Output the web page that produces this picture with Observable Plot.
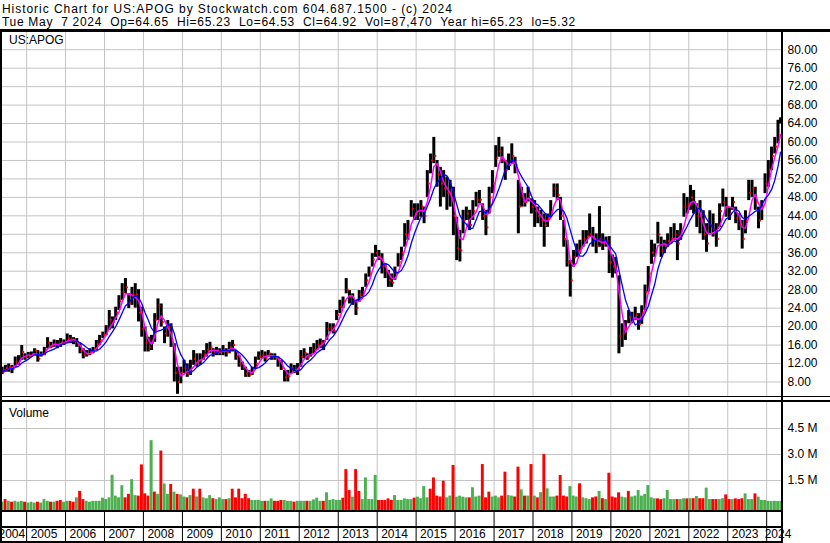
<!DOCTYPE html>
<html>
<head>
<meta charset="utf-8">
<script src="https://cdn.jsdelivr.net/npm/d3@7"></script>
<script src="https://cdn.jsdelivr.net/npm/@observablehq/plot@0.6"></script>
<style>
html,body{margin:0;padding:0;background:#fff;}
#chart{position:relative;width:830px;height:543px;overflow:hidden;background:#fff;font-family:"Liberation Sans",Arial,sans-serif;font-size:12px;color:#000;}
.txt{position:absolute;white-space:pre;line-height:13px;}
.hdr{left:2px;}
.bar{position:absolute;background:#000;}
#chart svg{position:absolute;left:0;}
</style>
</head>
<body>
<div id="chart">
  <div class="txt hdr" style="top:3px;letter-spacing:0.95px">Historic Chart for US:APOG by Stockwatch.com 604.687.1500 - (c) 2024</div>
  <div class="txt hdr" style="top:16px;letter-spacing:0.7px">Tue May  7 2024  Op=64.65  Hi=65.23  Lo=64.53  Cl=64.92  Vol=87,470  Year hi=65.23  lo=5.32</div>
</div>
<script>
// Monthly bars, May 2004 .. May 2024 (one value per month)
const lows = [
  9.6, 10.1, 10.1, 9.8, 11.2, 11.6, 12.7, 12.7,                               // 2004 May-Dec
  13.0, 13.4, 13.7, 12.3, 13.4, 13.7, 15.2, 15.2, 15.5, 15.2, 15.5, 15.9,     // 2005
  16.3, 16.3, 16.1, 15.5, 14.1, 13.0, 13.4, 13.7, 14.1, 14.8, 15.9, 17.4,     // 2006
  18.1, 19.2, 19.5, 21.3, 23.5, 25.7, 27.1, 23.9, 24.6, 24.0, 21.0, 17.7,     // 2007
  14.5, 14.5, 14.8, 16.6, 21.3, 19.9, 16.3, 17.7, 15.5, 8.0, 5.32, 7.6,       // 2008
  9.8, 9.0, 9.4, 11.6, 11.2, 11.6, 12.7, 13.4, 14.1, 13.4, 13.7, 13.7,        // 2009
  13.7, 13.4, 14.1, 14.5, 12.7, 11.2, 10.5, 9.0, 9.0, 9.4, 10.9, 12.7,        // 2010
  13.0, 12.3, 13.4, 12.7, 12.7, 11.2, 10.5, 8.0, 8.0, 9.8, 9.8, 9.4,          // 2011
  11.2, 13.0, 12.7, 13.4, 14.1, 14.8, 15.2, 14.8, 17.0, 18.8, 18.4, 21.3,     // 2012
  22.8, 23.9, 27.1, 24.9, 24.6, 22.4, 25.3, 26.4, 28.5, 30.7, 32.9, 35.0,     // 2013
  34.3, 31.4, 30.4, 28.5, 28.5, 30.0, 32.9, 34.3, 37.2, 38.7, 43.7, 43.0,     // 2014
  43.0, 43.7, 42.3, 48.0, 53.1, 55.3, 50.2, 45.9, 48.0, 45.2, 45.9, 39.7,     // 2015
  34.3, 34.0, 40.1, 43.0, 40.8, 43.0, 45.9, 46.6, 43.0, 39.7, 44.4, 48.8,     // 2016
  54.5, 56.7, 55.3, 51.7, 53.8, 55.3, 53.1, 40.1, 45.9, 45.9, 47.0, 44.4,     // 2017
  41.5, 42.3, 41.5, 37.2, 41.5, 43.7, 48.0, 47.3, 43.0, 37.2, 32.9, 26.4,     // 2018
  32.9, 35.0, 35.7, 37.2, 37.9, 39.4, 37.2, 35.8, 37.2, 36.5, 37.2, 31.5,     // 2019
  30.5, 31.4, 14.1, 15.5, 17.0, 20.6, 20.6, 21.3, 19.2, 20.5, 23.5, 27.5,     // 2020
  33.5, 35.0, 37.9, 35.0, 35.8, 37.2, 37.9, 38.7, 34.3, 38.7, 43.7, 44.4,     // 2021
  45.2, 44.4, 41.5, 40.1, 38.7, 36.1, 40.1, 39.4, 37.2, 41.5, 45.9, 43.7,     // 2022
  43.0, 45.2, 42.3, 40.8, 36.8, 40.1, 47.3, 48.0, 45.2, 41.2, 43.0, 48.8,     // 2023
  50.2, 53.8, 57.4, 59.6, 63.9                                                // 2024 Jan-May
];
const highs = [
  11.2, 11.6, 11.9, 11.6, 13.4, 13.7, 15.9, 14.1,
  14.4, 14.5, 15.2, 14.8, 14.5, 15.5, 17.6, 16.6, 17.1, 17.0, 17.4, 17.1,
  18.4, 18.1, 17.6, 17.4, 16.3, 15.2, 14.8, 15.2, 15.5, 17.0, 18.1, 18.8,
  20.2, 23.5, 22.1, 24.2, 26.7, 29.3, 30.4, 27.1, 28.5, 29.3, 28.0, 24.2,
  19.9, 17.7, 18.1, 22.8, 26.0, 24.9, 19.9, 21.3, 20.6, 16.3, 11.2, 11.2,
  12.7, 11.9, 12.7, 14.8, 14.1, 14.1, 14.8, 16.3, 16.6, 15.2, 15.5, 15.2,
  15.9, 15.2, 16.6, 17.0, 14.8, 13.7, 12.3, 11.2, 10.5, 11.2, 13.4, 14.5,
  14.8, 14.5, 14.8, 14.1, 14.1, 13.4, 12.7, 10.5, 10.5, 11.9, 11.6, 12.0,
  14.8, 15.2, 14.1, 15.5, 16.3, 17.0, 17.3, 17.0, 20.9, 20.6, 20.6, 23.5,
  25.7, 26.4, 30.4, 27.8, 27.1, 25.7, 27.8, 28.5, 31.4, 32.9, 35.8, 37.6,
  36.5, 35.8, 33.6, 32.2, 31.4, 32.9, 35.8, 37.2, 42.3, 43.0, 47.3, 46.6,
  46.6, 47.3, 45.9, 53.8, 57.4, 61.0, 56.0, 54.5, 53.8, 52.4, 51.7, 50.2,
  43.7, 40.8, 45.2, 45.9, 45.2, 47.3, 49.1, 49.5, 46.6, 45.2, 50.2, 53.8,
  59.2, 61.0, 58.9, 56.0, 57.4, 59.6, 56.7, 51.7, 50.2, 48.8, 50.2, 47.7,
  47.3, 45.9, 45.2, 44.4, 44.4, 47.3, 50.9, 50.9, 48.0, 43.0, 38.7, 34.3,
  36.5, 37.9, 38.7, 40.8, 40.8, 44.4, 41.5, 40.1, 46.0, 40.1, 39.4, 39.5,
  35.5, 35.0, 31.0, 20.6, 21.3, 23.5, 23.1, 24.2, 22.8, 24.5, 29.0, 33.0,
  38.7, 37.9, 42.6, 39.4, 38.7, 40.1, 41.5, 42.3, 40.8, 42.3, 48.8, 48.0,
  50.6, 49.5, 46.6, 47.3, 45.1, 42.3, 45.1, 44.4, 42.3, 46.6, 49.8, 48.0,
  45.9, 48.0, 45.9, 44.4, 43.0, 45.1, 51.7, 51.7, 50.2, 45.9, 47.3, 53.1,
  56.0, 58.9, 61.0, 64.7, 65.23
];
const closes = [
  10.2, 11.0, 11.3, 10.8, 12.4, 12.6, 14.5, 13.5,
  13.6, 14.0, 14.8, 13.0, 14.0, 15.0, 16.5, 15.8, 16.3, 16.0, 16.6, 16.5,
  17.5, 17.2, 16.9, 16.3, 14.7, 13.8, 14.0, 14.5, 15.0, 16.2, 17.0, 18.2,
  19.2, 21.5, 21.0, 23.0, 25.5, 27.5, 28.5, 25.0, 27.0, 27.0, 23.0, 19.5,
  16.5, 15.5, 16.5, 21.5, 24.5, 21.0, 18.5, 20.0, 17.0, 10.0, 8.0, 10.0,
  11.0, 9.8, 11.0, 13.0, 12.5, 12.8, 13.8, 15.0, 15.5, 14.2, 14.8, 14.5,
  15.0, 14.5, 15.5, 16.0, 13.5, 12.0, 11.3, 9.8, 9.6, 10.5, 12.0, 13.5,
  13.8, 13.2, 14.2, 13.6, 13.3, 12.5, 11.0, 9.0, 9.2, 11.0, 10.6, 10.8,
  13.5, 14.3, 13.3, 14.0, 15.0, 16.0, 16.5, 16.8, 19.5, 19.8, 19.0, 22.5,
  24.3, 25.5, 28.0, 26.5, 25.5, 24.0, 27.0, 27.5, 30.0, 31.5, 34.5, 36.0,
  35.0, 33.0, 32.0, 30.0, 29.5, 31.5, 34.0, 36.0, 40.0, 41.0, 45.5, 44.5,
  45.0, 46.0, 44.0, 51.0, 56.0, 57.0, 53.0, 51.0, 50.0, 49.0, 48.0, 44.0,
  37.0, 36.5, 43.0, 44.5, 42.0, 45.0, 47.5, 47.5, 44.0, 41.5, 48.0, 51.0,
  56.5, 58.0, 56.0, 54.0, 55.0, 57.0, 55.0, 46.0, 48.0, 47.0, 48.5, 46.0,
  45.0, 44.0, 43.0, 42.0, 43.5, 45.0, 50.0, 48.5, 44.0, 39.0, 34.0, 30.0,
  35.0, 36.5, 37.0, 39.0, 39.5, 40.0, 39.0, 37.5, 39.0, 38.0, 38.5, 34.0,
  33.0, 32.0, 18.0, 18.5, 19.5, 22.0, 21.5, 22.5, 20.5, 23.0, 27.5, 31.5,
  36.0, 36.5, 40.0, 36.5, 37.5, 38.5, 39.0, 40.0, 38.0, 41.0, 46.0, 46.5,
  48.0, 47.0, 44.0, 43.0, 40.0, 38.0, 42.0, 41.0, 39.0, 45.0, 47.0, 46.0,
  44.5, 47.0, 43.5, 42.0, 39.0, 43.0, 49.0, 50.0, 47.0, 43.0, 46.0, 51.0,
  54.0, 57.0, 59.0, 61.0, 64.92
];
// Volume, millions of shares (peak weekly volume in each month)
const volumes = [
  0.25, 0.4, 0.3, 0.25, 0.3, 0.25, 0.3, 0.25,
  0.2, 0.25, 0.2, 0.25, 0.2, 0.4, 0.3, 0.25, 0.25, 0.3, 0.35, 0.25,
  0.3, 0.3, 0.25, 0.5, 0.87, 0.4, 0.3, 0.25, 0.3, 0.3, 0.3, 0.48,
  0.4, 0.5, 1.8, 0.6, 0.5, 1.2, 0.5, 0.7, 1.55, 0.63, 0.6, 2.4,
  0.73, 0.6, 3.8, 0.83, 0.7, 3.2, 1.3, 0.7, 1.27, 0.83, 0.7, 0.67,
  0.55, 0.5, 0.63, 1.0, 0.55, 1.0, 0.5, 0.45, 0.63, 0.45, 0.4, 0.5,
  0.4, 0.4, 0.45, 1.0, 0.5, 1.0, 0.45, 0.7, 0.45, 0.35, 0.35, 0.35,
  0.3, 0.3, 0.3, 0.44, 0.3, 0.3, 0.35, 0.35, 0.3, 0.3, 0.25, 0.3,
  0.3, 0.3, 0.3, 0.3, 0.38, 0.48, 0.3, 0.3, 0.79, 0.35, 0.4, 0.35,
  0.35, 0.48, 2.13, 0.92, 0.54, 2.13, 0.87, 0.4, 1.65, 0.4, 0.4, 1.79,
  0.35, 0.35, 0.35, 0.44, 0.35, 0.63, 0.35, 0.35, 0.44, 0.4, 0.4, 0.48,
  0.54, 0.45, 1.15, 0.5, 1.0, 1.65, 0.6, 0.55, 1.46, 0.5, 0.6, 2.37,
  0.54, 0.6, 0.54, 0.5, 0.5, 1.08, 0.55, 0.6, 2.42, 0.5, 0.83, 0.55,
  0.6, 0.5, 0.6, 1.98, 0.63, 0.6, 0.55, 2.27, 0.96, 0.6, 0.6, 2.42,
  0.6, 0.5, 0.8, 3.0, 1.02, 0.55, 0.55, 0.6, 1.79, 0.6, 0.55, 1.15,
  0.6, 0.55, 1.31, 0.5, 0.45, 0.4, 0.5, 0.55, 0.87, 0.45, 0.4, 1.92,
  0.55, 0.5, 0.79, 0.54, 0.5, 0.87, 0.55, 0.6, 0.92, 0.6, 0.7, 1.21,
  0.5, 0.45, 0.44, 0.4, 0.45, 0.92, 0.4, 0.4, 0.4, 0.4, 0.45, 0.44,
  0.45, 0.45, 0.58, 0.45, 0.45, 1.06, 0.4, 0.4, 0.4, 0.4, 0.45, 0.67,
  0.4, 0.4, 0.44, 0.4, 0.45, 0.73, 0.4, 0.4, 0.73, 0.54, 0.35, 0.35,
  0.3, 0.29, 0.3, 0.29, 0.3
];
// 1 = up period (green volume), 0 = down period (red volume)
const volUp = [
  1,0,1,0,1,1,1,0,
  1,1,1,0,1,1,1,0,1,0,0,1,
  1,0,0,1,0,0,1,1,1,1,1,1,
  1,1,1,1,1,1,0,0,1,1,0,0,
  0,0,1,0,1,0,1,1,0,1,0,1,
  1,0,1,0,1,0,1,1,1,0,1,1,
  1,0,1,0,0,0,0,0,0,1,1,1,
  1,0,1,1,0,0,0,1,1,1,0,1,
  1,1,0,1,1,1,1,0,1,1,1,1,
  1,0,0,0,1,0,0,1,1,1,1,1,
  0,0,0,0,0,1,1,1,1,1,1,0,
  1,1,1,1,0,0,0,0,0,1,1,0,
  1,1,1,1,0,1,1,1,0,0,0,1,
  1,1,0,0,1,1,0,0,1,0,1,0,
  1,0,1,0,1,1,1,0,0,0,0,1,
  1,1,0,1,1,1,0,0,1,0,1,0,
  0,0,0,1,1,0,1,1,1,1,1,1,
  1,1,0,0,1,1,1,1,0,1,1,0,
  1,0,1,0,0,1,1,0,0,1,1,0,
  0,1,0,0,0,1,1,1,0,1,1,1,
  1,1,1,1,1
];
const priceTicks = [8, 12, 16, 20, 24, 28, 32, 36, 40, 44, 48, 52, 56, 60, 64, 68, 72, 76, 80];
const volumeTicks = [1.5, 3.0, 4.5];
const yearLabels = d3.range(2004, 2025);

const FONT = '"Liberation Sans", Arial, sans-serif';
const xDomain = [new Date(Date.UTC(2004, 4, 1)), new Date(Date.UTC(2024, 4, 19))];
const data = lows.map((lo, i) => {
  const start = new Date(Date.UTC(2004, 4 + i, 1));
  let end = new Date(Date.UTC(2004, 5 + i, 1));
  if (end > xDomain[1]) end = xDomain[1];
  return {
    start, end, mid: new Date((+start + +end) / 2),
    low: lo, high: highs[i], close: closes[i],
    vol: volumes[i], color: volUp[i] ? "#4cb050" : "#ff0000"
  };
});
const yearDates = yearLabels.slice(1).map(y => new Date(Date.UTC(y, 0, 1)));
const style = {background: "transparent", fontFamily: FONT, fontSize: "12px", color: "#000", overflow: "visible"};
const GRID = "#c4c4c4";

const price = Plot.plot({
  width: 830, height: 364,
  marginTop: 0, marginBottom: 0, marginLeft: 0, marginRight: 49,
  style,
  x: {type: "utc", domain: xDomain, axis: null},
  y: {domain: [4.85, 83.73], axis: "right", ticks: priceTicks, tickFormat: d => d.toFixed(2), tickSize: 0, tickPadding: 6, label: null},
  marks: [
    Plot.ruleY(priceTicks, {stroke: GRID, strokeWidth: 1}),
    Plot.ruleX(yearDates, {stroke: GRID, strokeWidth: 1}),
    Plot.ruleX(data, {x: "mid", y1: "low", y2: "high", stroke: "#000", strokeWidth: 3}),
    Plot.dot(data, {x: "mid", y: "close", r: 1.1, symbol: "square", fill: "#ff0000", stroke: null, dx: 1.5}),
    Plot.lineY(data, Plot.windowY({k: 3, anchor: "end"}, {x: "mid", y: "close", stroke: "#ff00ff", strokeWidth: 1.5})),
    Plot.lineY(data, Plot.windowY({k: 6, anchor: "end"}, {x: "mid", y: "close", stroke: "#0000ff", strokeWidth: 1.3}))
  ]
});
price.style.top = "32px";

const volume = Plot.plot({
  width: 830, height: 108,
  marginTop: 0, marginBottom: 0, marginLeft: 0, marginRight: 49,
  style,
  x: {type: "utc", domain: xDomain, axis: null},
  y: {domain: [-0.23, 6.0], axis: "right", ticks: volumeTicks, tickFormat: d => d.toFixed(1) + " M", tickSize: 0, tickPadding: 6, label: null},
  color: {type: "identity"},
  marks: [
    Plot.ruleY(volumeTicks, {stroke: GRID, strokeWidth: 1}),
    Plot.ruleX(yearDates, {stroke: GRID, strokeWidth: 1}),
    Plot.rect(data, {x1: "start", x2: "end", y1: -0.23, y2: "vol", fill: "color", insetLeft: 0.3})
  ]
});
volume.style.top = "402px";

const band = Plot.plot({
  width: 830, height: 31,
  marginTop: 0, marginBottom: 0, marginLeft: 0, marginRight: 49,
  style,
  x: {type: "utc", domain: xDomain, axis: null},
  marks: [
    Plot.ruleX(yearDates, {stroke: "#000", strokeWidth: 1}),
    Plot.text(yearLabels.slice(1, -1), {x: y => new Date(Date.UTC(y, 0, 1)), text: y => String(y), frameAnchor: "bottom", textAnchor: "start", dx: 4, dy: -6}),
    Plot.text(yearLabels.slice(-1), {x: y => new Date(Date.UTC(y, 0, 1)), text: y => String(y), frameAnchor: "bottom", textAnchor: "start", dx: -2, dy: -6}),
    Plot.text(yearLabels.slice(0, 1), {x: () => xDomain[0], text: y => String(y), frameAnchor: "bottom", textAnchor: "start", dx: -2, dy: -6})
  ]
});
band.style.top = "512px";

const root = document.getElementById("chart");
root.append(price, volume, band);

function addBar(l, t, w, h) {
  const d = document.createElement("div");
  d.className = "bar";
  Object.assign(d.style, {left: l + "px", top: t + "px", width: w + "px", height: h + "px"});
  root.append(d);
}
function addText(l, t, s) {
  const d = document.createElement("div");
  d.className = "txt";
  Object.assign(d.style, {left: l + "px", top: t + "px"});
  d.textContent = s;
  root.append(d);
}
addBar(0, 29, 830, 3);     // under header
addBar(0, 396, 830, 1);    // price panel bottom
addBar(0, 400, 830, 2);    // volume panel top
addBar(0, 510, 781, 2);    // volume panel bottom
addBar(0, 526, 781, 2);    // between cells and year labels
addBar(0, 541, 783, 2);    // bottom
addBar(0, 29, 2, 514);     // left border
addBar(781, 29, 2, 514);   // right border of plot area
addText(9, 34, "US:APOG");
addText(9, 407, "Volume");
</script>
</body>
</html>
